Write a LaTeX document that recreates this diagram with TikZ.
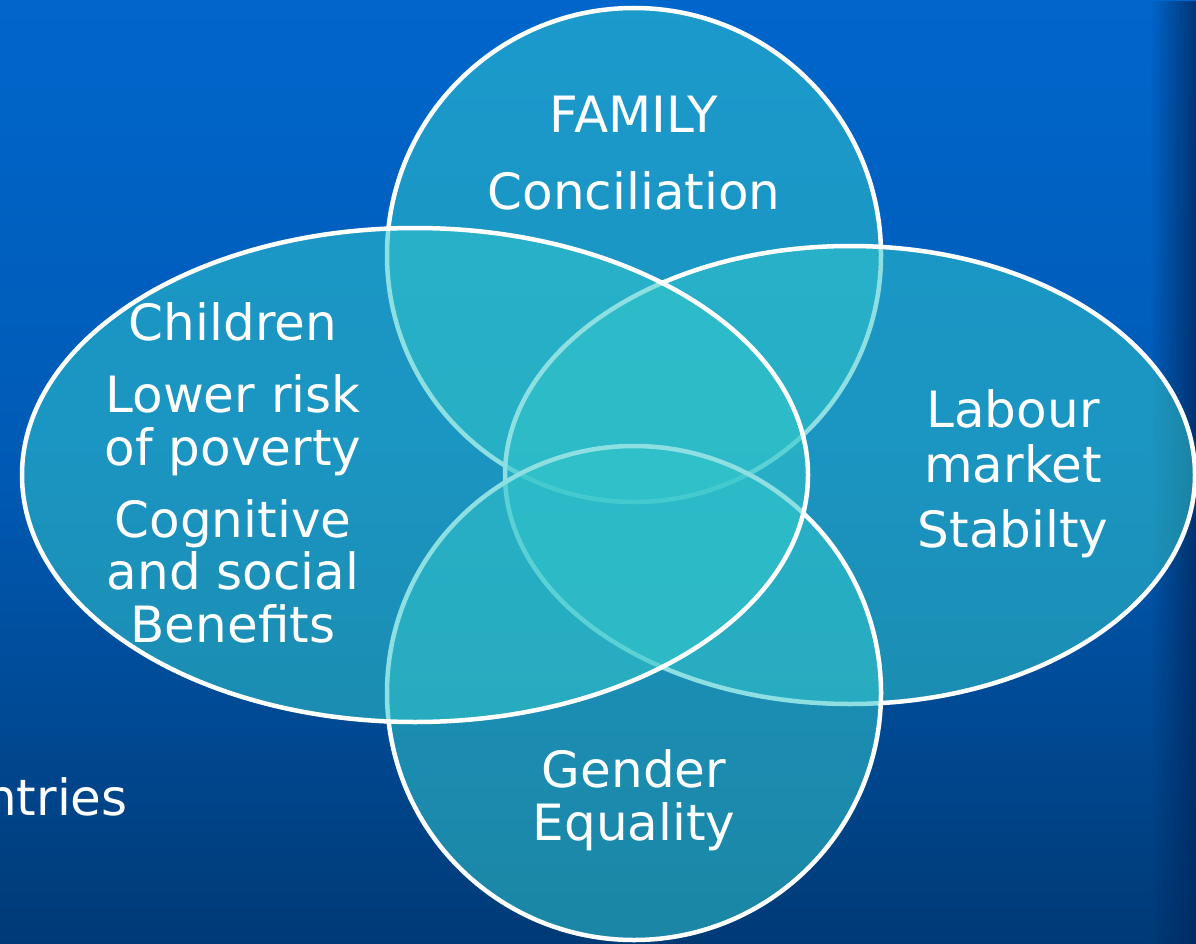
\documentclass[tikz,border=0pt]{standalone}
\usepackage{fontspec}
\setmainfont{DejaVu Sans}
\usetikzlibrary{fadings}
\tikzfading[name=fadeR, left color=transparent!100, right color=transparent!0]
\definecolor{bgtop}{RGB}{0,102,204}
\definecolor{bgmid}{RGB}{0,90,180}
\definecolor{bgbot}{RGB}{0,58,118}
\definecolor{edgedark}{RGB}{0,40,95}
\definecolor{venn}{RGB}{50,197,203}
\begin{document}
\begin{tikzpicture}[x=1pt,y=-1pt,
  vennshape/.style={fill=venn, fill opacity=0.55, draw=white, line width=4.5pt},
  lbl/.style={text=white, anchor=base, inner sep=0pt, font=\fontsize{50}{60}\selectfont}]
\useasboundingbox (0,0) rectangle (1196,944);
\shade[top color=bgtop, bottom color=bgbot, middle color=bgmid] (0,0) rectangle (1196,944);
\fill[edgedark, path fading=fadeR, fill opacity=0.8] (1150,0) rectangle (1196,944);
% shapes in stacking order
\path[vennshape] (634,255) ellipse [x radius=247, y radius=247];
\path[vennshape] (850,475) ellipse [x radius=345, y radius=229];
\path[vennshape] (634,693) ellipse [x radius=247, y radius=247];
\path[vennshape] (415,475) ellipse [x radius=393, y radius=247];
% texts
\node[lbl] (fam) at (634,133) {FAMILY};
\node[lbl] (con) at (634,210) {Conciliation};
\node[lbl] (chi) at (233,340) {Children};
\node[lbl] (low) at (233,412) {Lower risk};
\node[lbl] (pov) at (233,465) {of poverty};
\node[lbl] (cog) at (233,537) {Cognitive};
\node[lbl] (soc) at (233,589) {and social};
\node[lbl] (ben) at (233,642) {Benefits};
\node[lbl] (lab) at (1013,427) {Labour};
\node[lbl] (mar) at (1013,482) {market};
\node[lbl] (sta) at (1013,547) {Stabilty};
\node[lbl] (gen) at (634,787) {Gender};
\node[lbl] (equ) at (634,840) {Equality};
\node[lbl, anchor=base east] (ntr) at (128,815) {ntries};
\end{tikzpicture}
\end{document}
